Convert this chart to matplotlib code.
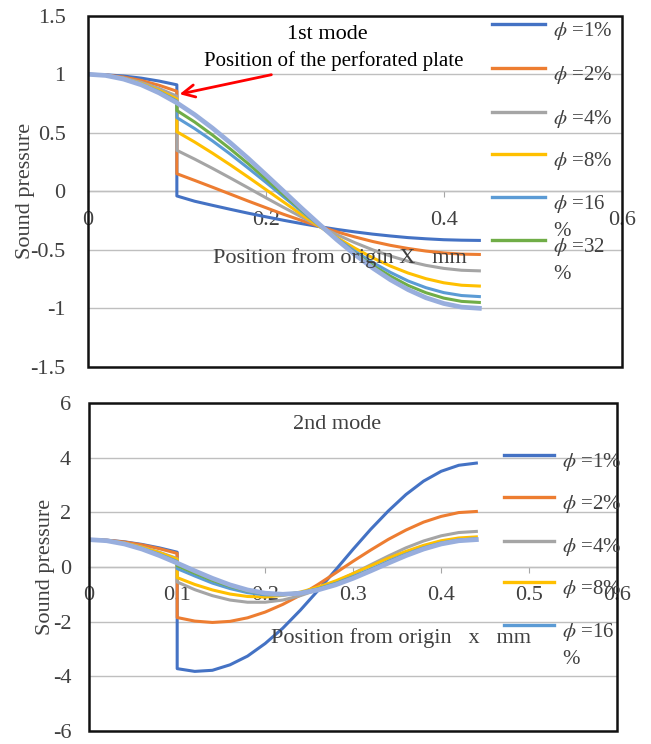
import matplotlib
matplotlib.use("Agg")
import matplotlib.pyplot as plt
from matplotlib.patches import Rectangle
from matplotlib.ticker import FuncFormatter

plt.rcParams['font.family'] = ['Liberation Serif', 'DejaVu Serif']
plt.rcParams['mathtext.fontset'] = 'stix'
plt.rcParams['axes.unicode_minus'] = False

# positions along the tube (mm); 0.1 repeated = both sides of the perforated plate
x_pos = [0, 0.02, 0.04, 0.06, 0.08, 0.10,
         0.10, 0.12, 0.14, 0.16, 0.18, 0.20, 0.22, 0.24, 0.26, 0.28,
         0.30, 0.32, 0.34, 0.36, 0.38, 0.40, 0.42, 0.44]

# 1st mode
m1_phi1 = [1, .996, .985, .967, .942, .910,
           -.04, -.085, -.120, -.154, -.187, -.218, -.248, -.276, -.302, -.326,
           -.347, -.366, -.382, -.396, -.406, -.414, -.418, -.42]
m1_phi2 = [1, .994, .976, .947, .906, .855,
           .150, .093, .035, -.024, -.083, -.140, -.197, -.249, -.300, -.347,
           -.390, -.429, -.462, -.489, -.511, -.527, -.537, -.54]
m1_phi4 = [1, .992, .969, .931, .879, .813,
           .350, .275, .196, .114, .030, -.055, -.138, -.219, -.298, -.371,
           -.439, -.500, -.553, -.598, -.633, -.659, -.675, -.68]
m1_phi8 = [1, .991, .965, .922, .863, .789,
           .509, .421, .326, .226, .122, .015, -.092, -.198, -.300, -.396,
           -.486, -.568, -.639, -.699, -.747, -.782, -.803, -.81]
m1_phi16 = [1, .990, .962, .916, .852, .771,
            .630, .536, .431, .318, .199, .077, -.048, -.170, -.290, -.405,
            -.513, -.608, -.693, -.767, -.824, -.866, -.891, -.90]
m1_phi32 = [1, .990, .961, .913, .847, .764,
            .690, .592, .481, .362, .237, .105, -.028, -.160, -.288, -.412,
            -.528, -.634, -.725, -.805, -.867, -.913, -.941, -.95]
m1_phi64 = [1, .990, .959, .910, .841, .756,
            .756, .655, .540, .415, .282, .142, .000, -.143, -.281, -.415,
            -.540, -.655, -.756, -.841, -.910, -.959, -.990, -1.0]

# 2nd mode
m2_phi1 = [1, .980, .921, .825, .697, .540,
           -3.72, -3.82, -3.78, -3.58, -3.26, -2.80, -2.24, -1.58, -0.86, -0.11,
           0.65, 1.38, 2.05, 2.65, 3.14, 3.50, 3.72, 3.80]
m2_phi2 = [1, .978, .913, .808, .667, .498,
           -1.85, -1.98, -2.03, -1.99, -1.86, -1.65, -1.37, -1.03, -0.64, -0.22,
           0.21, 0.62, 1.01, 1.35, 1.64, 1.85, 1.99, 2.03]
m2_phi4 = [1, .969, .876, .729, .536, .309,
           -0.55, -0.83, -1.05, -1.21, -1.29, -1.29, -1.21, -1.05, -0.83, -0.55,
           -0.24, 0.08, 0.40, 0.70, 0.95, 1.14, 1.26, 1.30]
m2_phi8 = [1, .967, .872, .719, .520, .287,
           -0.39, -0.64, -0.84, -0.99, -1.08, -1.10, -1.04, -0.92, -0.74, -0.51,
           -0.24, 0.04, 0.32, 0.57, 0.79, 0.96, 1.06, 1.10]
m2_phi16 = [1, .963, .854, .681, .458, .199,
            -0.06, -0.33, -0.59, -0.79, -0.94, -1.02, -1.02, -0.95, -0.80, -0.60,
            -0.35, -0.08, 0.21, 0.47, 0.70, 0.88, 0.99, 1.03]
m2_phi32 = [1, .961, .847, .667, .436, .170,
            0.05, -0.23, -0.49, -0.71, -0.88, -0.98, -1.00, -0.94, -0.81, -0.62,
            -0.38, -0.11, 0.17, 0.44, 0.67, 0.85, 0.96, 1.00]
m2_phi64 = [1, .959, .841, .655, .415, .142,
            .142, -.143, -.415, -.655, -.841, -.959, -1.0, -.959, -.841, -.655,
            -.415, -.142, .142, .415, .655, .841, .959, 1.0]

labels = [r'$\phi$ =1%', r'$\phi$ =2%', r'$\phi$ =4%', r'$\phi$ =8%',
          '$\\phi$ =16\n%', '$\\phi$ =32\n%']
colors = ['#4472C4', '#ED7D31', '#A5A5A5', '#FFC000', '#5B9BD5', '#70AD47', '#98AEDD']

y1_ticks = [-1.5, -1, -0.5, 0, 0.5, 1, 1.5]
x1_ticks = [0, 0.2, 0.4, 0.6]
y2_ticks = [-6, -4, -2, 0, 2, 4, 6]
x2_ticks = [0, 0.1, 0.2, 0.3, 0.4, 0.5, 0.6]

GRID = '#BFBFBF'
TXT = '#404040'
fmt = FuncFormatter(lambda v, p: f'{v:g}')


def style(ax, yticks, xticks, ypad):
    ax.set_xlim(0, 0.6)
    ax.set_ylim(yticks[0], yticks[-1])
    ax.set_yticks(yticks)
    ax.set_xticks(xticks)
    ax.xaxis.set_major_formatter(fmt)
    ax.yaxis.set_major_formatter(fmt)
    for s in ['top', 'right', 'left']:
        ax.spines[s].set_visible(False)
    ax.spines['bottom'].set_position(('data', 0))
    ax.spines['bottom'].set_color(GRID)
    ax.spines['bottom'].set_linewidth(1)
    ax.add_patch(Rectangle((0, 0), 1, 1, transform=ax.transAxes, fill=False,
                           lw=1.8, ec='#111111', clip_on=False, zorder=5))
    ax.yaxis.grid(True, color=GRID, lw=1)
    ax.set_axisbelow(True)
    ax.tick_params(axis='y', length=0, pad=ypad, labelsize=16, labelcolor=TXT)
    ax.tick_params(axis='x', length=4, color='#A6A6A6', pad=10, labelsize=16,
                   labelcolor=TXT, direction='out')


def draw_legend(ax, n, x0, x1, tx, rows, off):
    for i in range(n):
        ax.plot([x0, x1], [rows[i], rows[i]], transform=ax.transAxes,
                color=colors[i], lw=2.4, clip_on=False, zorder=6)
        ax.text(tx, rows[i] + off, labels[i], transform=ax.transAxes,
                fontsize=15, color=TXT, va='top', ha='left',
                linespacing=1.5, zorder=6)


fig = plt.figure(figsize=(6.51, 7.44), dpi=100)
ax1 = fig.add_axes([0.135, 0.507, 0.820, 0.4718])
ax2 = fig.add_axes([0.137, 0.0175, 0.811, 0.4409])

# ---- 1st mode
style(ax1, y1_ticks, x1_ticks, 16)
m1 = [m1_phi1, m1_phi2, m1_phi4, m1_phi8, m1_phi16, m1_phi32, m1_phi64]
for i, ys in enumerate(m1):
    ax1.plot(x_pos, ys, color=colors[i], lw=3.4 if i == 6 else 2.2, zorder=3)
ax1.set_ylabel('Sound pressure', fontsize=16, color=TXT)
ax1.yaxis.set_label_coords(-0.100, 0.5)
ax1.text(0.449, 0.946, '1st mode', transform=ax1.transAxes, fontsize=16,
         ha='center', va='center')
ax1.annotate('Position of the perforated plate', xy=(0.103, 0.83),
             xytext=(0.131, 1.11), fontsize=15, ha='left', va='center',
             arrowprops=dict(arrowstyle='->', color='red', lw=2,
                             mutation_scale=22, shrinkA=2, shrinkB=0))
ax1.text(0.472, 0.311, 'Position from origin X   mm', transform=ax1.transAxes,
         fontsize=16, ha='center', va='center', color=TXT)
draw_legend(ax1, 6, 0.757, 0.856, 0.871,
            [0.977, 0.852, 0.726, 0.607, 0.484, 0.362], 0.012)

# ---- 2nd mode
style(ax2, y2_ticks, x2_ticks, 13)
m2 = [m2_phi1, m2_phi2, m2_phi4, m2_phi8, m2_phi16, m2_phi32, m2_phi64]
for i, ys in enumerate(m2):
    ax2.plot(x_pos, ys, color=colors[i], lw=3.4 if i == 6 else 2.2, zorder=3)
ax2.set_ylabel('Sound pressure', fontsize=16, color=TXT)
ax2.yaxis.set_label_coords(-0.064, 0.5)
ax2.text(0.470, 0.934, '2nd mode', transform=ax2.transAxes, fontsize=16,
         ha='center', va='center', color=TXT)
ax2.text(0.591, 0.284, 'Position from origin   x   mm', transform=ax2.transAxes,
         fontsize=16, ha='center', va='center', color=TXT)
draw_legend(ax2, 5, 0.786, 0.881, 0.896,
            [0.840, 0.713, 0.580, 0.453, 0.323], 0.013)

fig.savefig('out.png', dpi=100)
